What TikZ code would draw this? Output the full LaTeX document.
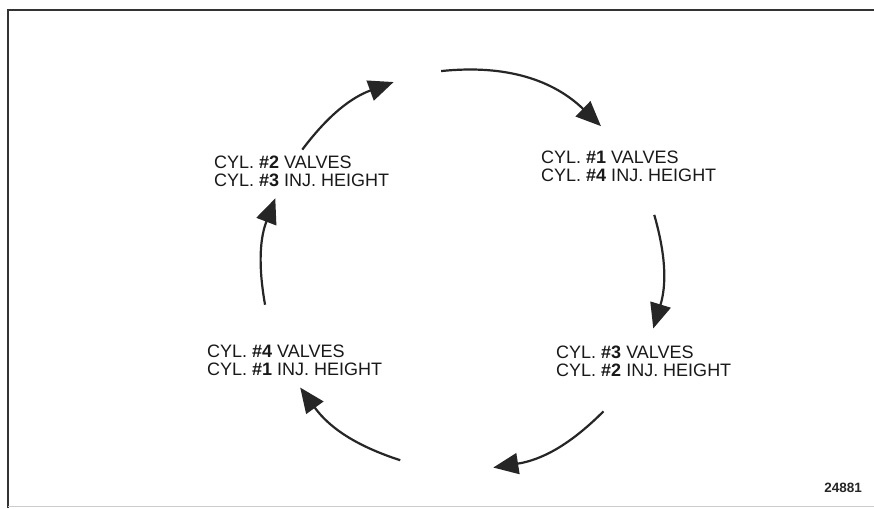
\documentclass[tikz,border=0pt]{standalone}
\usepackage{fontspec}
\setmainfont{Liberation Sans}
\usetikzlibrary{arrows.meta,calc}
\begin{document}
\begin{tikzpicture}[x=1pt,y=1pt,
  lbl/.style={anchor=west,align=left,inner sep=0pt,font=\fontsize{18}{18}\selectfont,text=black!90},
  cyc/.style={line width=2.2pt,draw=black!85,-{Triangle[length=25pt,width=21pt]}}]
\useasboundingbox (0,0) rectangle (874,508);
\fill[white] (0,0) rectangle (874,508);
\draw[line width=2.5pt, black!80] (8,0) -- (8,498) -- (874,498);
\draw[line width=1pt, black!20] (8,2) -- (874,2);
\coordinate (c) at (462,238);
\coordinate (s1) at ($(c)+(96:200)$);
\coordinate (e1) at ($(c)+(46:200)$);
\coordinate (s2) at ($(c)+(16:200)$);
\coordinate (e2) at ($(c)+(-17:200)$);
\coordinate (s3) at ($(c)+(-45:200)$);
\coordinate (e3) at ($(c)+(-81:200)$);
\coordinate (s4) at ($(c)+(-108:200)$);
\coordinate (e4) at ($(c)+(-144:200)$);
\coordinate (s5) at ($(c)+(190:200)$);
\coordinate (e5) at ($(c)+(159:200)$);
\coordinate (s6) at ($(c)+(143:200)$);
\coordinate (e6) at ($(c)+(110:200)$);
\draw[cyc] (s1) to[bend left=25] (e1);
\draw[cyc] (s2) to[bend left=16.5] (e2);
\draw[cyc] (s3) to[bend left=18] (e3);
\draw[cyc] (s4) to[bend left=18] (e4);
\draw[cyc] (s5) to[bend left=15.5] (e5);
\draw[cyc] (s6) to[bend left=16.5] (e6);
\node[lbl] (tl) at (214,337) {CYL. \textbf{\#2} VALVES\\CYL. \textbf{\#3} INJ. HEIGHT};
\node[lbl] (tr) at (541,342) {CYL. \textbf{\#1} VALVES\\CYL. \textbf{\#4} INJ. HEIGHT};
\node[lbl] (br) at (556,147) {CYL. \textbf{\#3} VALVES\\CYL. \textbf{\#2} INJ. HEIGHT};
\node[lbl] (bl) at (207,148) {CYL. \textbf{\#4} VALVES\\CYL. \textbf{\#1} INJ. HEIGHT};
\node[anchor=east,inner sep=0pt,font=\fontsize{13.5}{13.5}\selectfont\bfseries,text=black!85] (id) at (862,20) {24881};
\end{tikzpicture}
\end{document}
